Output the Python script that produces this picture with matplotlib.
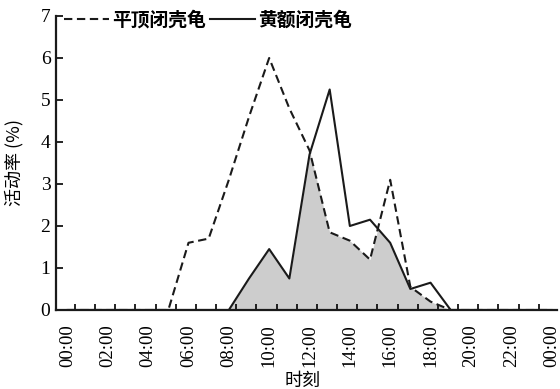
import numpy as np
import matplotlib.pyplot as plt

# 每小时活动率 (%)，0:00 - 24:00
hours = np.arange(25)
pingding = [0, 0, 0, 0, 0, 0, 1.6, 1.7, 3.1, 4.6, 6.0, 4.8, 3.8,
            1.85, 1.65, 1.2, 3.1, 0.55, 0.2, 0, 0, 0, 0, 0, 0]
huange = [0, 0, 0, 0, 0, 0, 0, 0, 0, 0.75, 1.45, 0.75, 3.7,
          5.25, 2.0, 2.15, 1.6, 0.5, 0.65, 0, 0, 0, 0, 0, 0]
tick_labels = ['%02d:00' % (h % 24) for h in range(0, 25, 2)]

serif = ['Liberation Serif', 'Noto Sans CJK SC']
cjk = ['Noto Sans CJK SC', 'Liberation Serif']

fig = plt.figure(figsize=(5.6, 3.89), dpi=100)
ax = fig.add_axes([0.1, 0.2031, 0.8946, 0.7558])

# 两条曲线重叠部分填充灰色
xf = np.linspace(0, 24, 961)
overlap = np.minimum(np.interp(xf, hours, pingding), np.interp(xf, hours, huange))
ax.fill_between(xf, 0, overlap, color='#cdcdcd', lw=0)

ax.plot(hours, pingding, color='#1a1a1a', lw=1.5, ls=(0, (4, 2.2)), label='平顶闭壳龟')
ax.plot(hours, huange, color='#1a1a1a', lw=1.5, label='黄额闭壳龟')

ax.set_xlim(-0.57, 24.27)
ax.set_ylim(0, 7)
ax.spines['top'].set_visible(False)
ax.spines['right'].set_visible(False)
for s in ('left', 'bottom'):
    ax.spines[s].set_linewidth(1.6)
    ax.spines[s].set_color('#1a1a1a')

ax.set_xticks(range(0, 25, 2))
ax.set_xticklabels(tick_labels, rotation=90, fontsize=13.5, family=serif)
ax.tick_params(axis='x', which='major', length=0, pad=10)
ax.set_xticks(np.arange(24) + 0.37, minor=True)
ax.tick_params(axis='x', which='minor', direction='in', length=4, width=1.2)

ax.set_yticks(range(8))
ax.set_yticklabels([str(v) for v in range(8)], fontsize=14, family=serif)
ax.tick_params(axis='y', direction='in', length=5, width=1.2, pad=4)

ax.set_ylabel('活动率 (%)', fontsize=13, family=cjk, va='center')
ax.yaxis.set_label_coords(-0.084, 0.5)
ax.set_xlabel('时刻', fontsize=13, family=cjk, va='center')
ax.xaxis.set_label_coords(0.493, -0.243)

leg = ax.legend(loc='center left', bbox_to_anchor=(0.015, 0.985), ncol=2, frameon=False,
                prop={'family': cjk, 'size': 13.5, 'weight': 'bold'},
                handlelength=2.4, handletextpad=0.2, columnspacing=0.2, borderpad=0,
                borderaxespad=0)

fig.savefig('out.png', dpi=100)
